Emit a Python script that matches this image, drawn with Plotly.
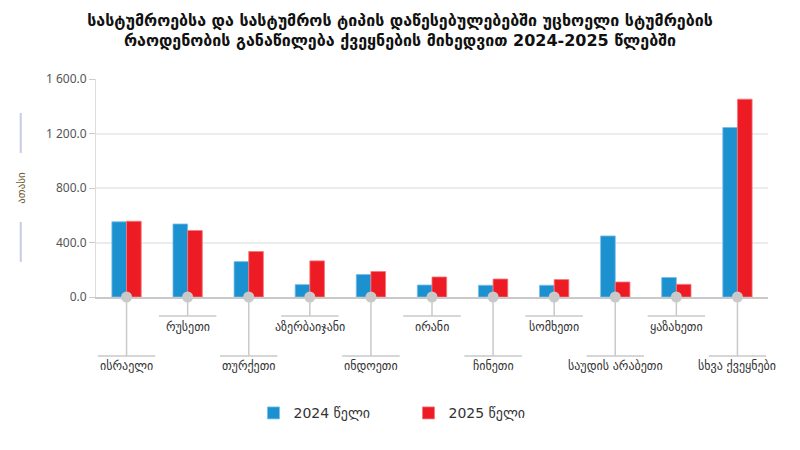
import plotly.graph_objects as go

# data (thousands)
countries = ['ისრაელი', 'რუსეთი', 'თურქეთი', 'აზერბაიჯანი', 'ინდოეთი', 'ირანი',
             'ჩინეთი', 'სომხეთი', 'საუდის არაბეთი', 'ყაზახეთი', 'სხვა ქვეყნები']
y2024 = [552, 536, 260, 91, 165, 88, 86, 86, 448, 143, 1244]
y2025 = [556, 488, 334, 265, 187, 147, 132, 128, 110, 93, 1452]
series_names = ['2024 წელი', '2025 წელი']
yticks = [0, 400, 800, 1200, 1600]

title = ('სასტუმროებსა და სასტუმროს ტიპის დაწესებულებებში უცხოელი სტუმრების<br>'
         'რაოდენობის განაწილება ქვეყნების მიხედვით 2024-2025 წლებში')

FONT = 'DejaVu Sans'
BLUE = '#1c91d0'
RED = '#ed1c24'
GREY = '#c9c9c9'

fig = go.Figure()
fig.add_trace(go.Bar(x=countries, y=y2024, name=series_names[0],
                     marker=dict(color=BLUE, line=dict(color='rgba(120,190,235,0.8)', width=1))))
fig.add_trace(go.Bar(x=countries, y=y2025, name=series_names[1],
                     marker=dict(color=RED, line=dict(color='rgba(245,120,125,0.8)', width=1))))
# grey dots on the baseline
fig.add_trace(go.Scatter(x=countries, y=[0] * len(countries), mode='markers',
                         marker=dict(color=GREY, size=11), cliponaxis=False,
                         showlegend=False, hoverinfo='skip'))

shapes = []
annotations = []
for i, c in enumerate(countries):
    low = i % 2 == 0
    ybar = -0.271 if low else -0.087
    ytxt = -0.317 if low else -0.136
    # leader line from the axis down to the label bar
    shapes.append(dict(type='line', xref='x', yref='paper', x0=i, x1=i, y0=0, y1=ybar,
                       line=dict(color=GREY, width=1.5), layer='below'))
    shapes.append(dict(type='line', xref='x', yref='paper', x0=i - 0.47, x1=i + 0.47,
                       y0=ybar, y1=ybar, line=dict(color=GREY, width=1.5)))
    annotations.append(dict(x=i, y=ytxt, xref='x', yref='paper', text=c, showarrow=False,
                            font=dict(family=FONT, size=12, color='#333333'),
                            xanchor='center', yanchor='middle'))

# axis title with the little lines above and below it
annotations.append(dict(x=-0.112, y=0.5, xref='paper', yref='paper', text='ათასი',
                        textangle=-90, showarrow=False, xanchor='center',
                        font=dict(family=FONT, size=11, color='#6b5a2e')))
for y0, y1 in [(0.661, 0.844), (0.161, 0.344)]:
    shapes.append(dict(type='line', xref='paper', yref='paper', x0=-0.112, x1=-0.112,
                       y0=y0, y1=y1, line=dict(color='#c5cbe6', width=2)))

fig.update_layout(
    width=800, height=450,
    margin=dict(l=96, r=32, t=79, b=153),
    paper_bgcolor='white', plot_bgcolor='white',
    title=dict(text=title, x=0.5, xanchor='center', yref='container', y=0.943,
               yanchor='middle',
               font=dict(family=FONT, size=16, color='#111111', weight='bold')),
    barmode='group', bargap=0.52, bargroupgap=0,
    separators='. ',
    showlegend=True,
    legend=dict(orientation='h', x=0.465, xanchor='center', y=-0.46, yanchor='top',
                font=dict(family=FONT, size=14, color='#333333'), itemwidth=30,
                entrywidth=110, entrywidthmode='pixels', traceorder='normal'),
    shapes=shapes, annotations=annotations,
)
fig.update_xaxes(range=[-0.5, len(countries) - 0.5], showticklabels=False,
                 showline=True, linecolor=GREY, linewidth=1.5, ticks='', showgrid=False)
fig.update_yaxes(range=[0, 1600], tickvals=yticks, tickformat=',.1f',
                 showgrid=True, gridcolor='#ececec', gridwidth=1.5,
                 showline=True, linecolor='#dddddd', ticks='outside', ticklen=6,
                 tickcolor='#cccccc', zeroline=False,
                 tickfont=dict(family='Noto Sans', size=12, color='#555555'))

# drop the browser's default body margin so the 800x450 figure fills the window
fig.write_html("out.html", config={'displayModeBar': False},
               post_script="document.body.style.margin='0';")
